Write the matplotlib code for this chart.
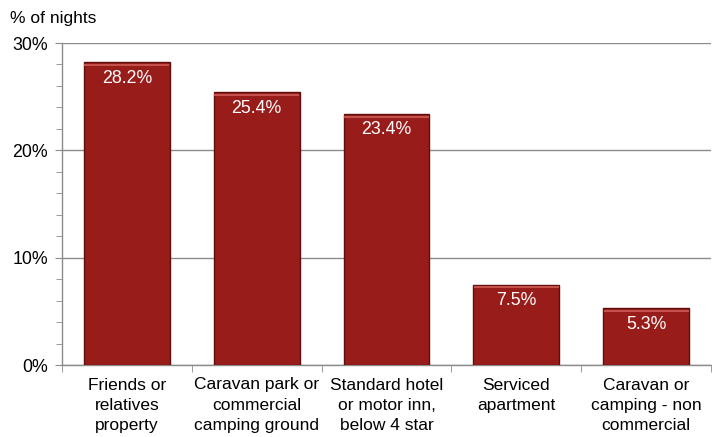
import numpy as np
import matplotlib
matplotlib.use("Agg")
import matplotlib.pyplot as plt
from matplotlib.ticker import MultipleLocator, PercentFormatter

# share of visitor nights by accommodation type
categories = ["Friends or\nrelatives\nproperty",
              "Caravan park or\ncommercial\ncamping ground",
              "Standard hotel\nor motor inn,\nbelow 4 star",
              "Serviced\napartment",
              "Caravan or\ncamping - non\ncommercial"]
values = [28.2, 25.4, 23.4, 7.5, 5.3]

plt.rcParams["font.family"] = ["Liberation Sans", "DejaVu Sans"]

fig = plt.figure(figsize=(7.12, 4.37), dpi=100)
ax = fig.add_axes([62 / 712, 1 - 365 / 437, 649 / 712, 322 / 437])

x = np.arange(len(values))
bars = ax.bar(x, values, width=0.66, color="#981c19", edgecolor="#5e0f0d",
              linewidth=1.0, zorder=3)
# light strip on top of each bar
for b in bars:
    ax.plot([b.get_x() + 0.01, b.get_x() + b.get_width() - 0.01],
            [b.get_height() - 0.25] * 2, color="#c4514c", lw=1.5, zorder=4)

for xi, v in zip(x, values):
    ax.annotate(f"{v:.1f}%", (xi, v), xytext=(0, -11.5), textcoords="offset points",
                ha="center", va="center", color="white", fontsize=12.8, zorder=5)

ax.set_xlim(-0.5, len(values) - 0.5)
ax.set_ylim(0, 30)
ax.yaxis.set_major_locator(MultipleLocator(10))
ax.yaxis.set_minor_locator(MultipleLocator(2))
ax.yaxis.set_major_formatter(PercentFormatter(decimals=0))
ax.grid(axis="y", which="major", color="#8c8c8c", lw=1.0, zorder=0)

ax.set_xticks(x)
ax.set_xticklabels(categories, fontsize=12.5, linespacing=1.42)
ax.set_xticks(np.arange(-0.5, len(values)), minor=True)
ax.tick_params(axis="x", which="major", length=0, pad=9)
ax.tick_params(axis="x", which="minor", length=5, color="#8c8c8c", direction="out")
ax.tick_params(axis="y", which="major", length=5, color="#8c8c8c", labelsize=12.8, pad=5)
ax.tick_params(axis="y", which="minor", length=4, color="#8c8c8c")

for s in ["top", "right"]:
    ax.spines[s].set_visible(False)
for s in ["left", "bottom"]:
    ax.spines[s].set_color("#8c8c8c")
    ax.spines[s].set_linewidth(1.0)

fig.text(10 / 712, 1 - 18 / 437, "% of nights", fontsize=12.5, va="center", ha="left")

fig.savefig("out.png", dpi=100)
